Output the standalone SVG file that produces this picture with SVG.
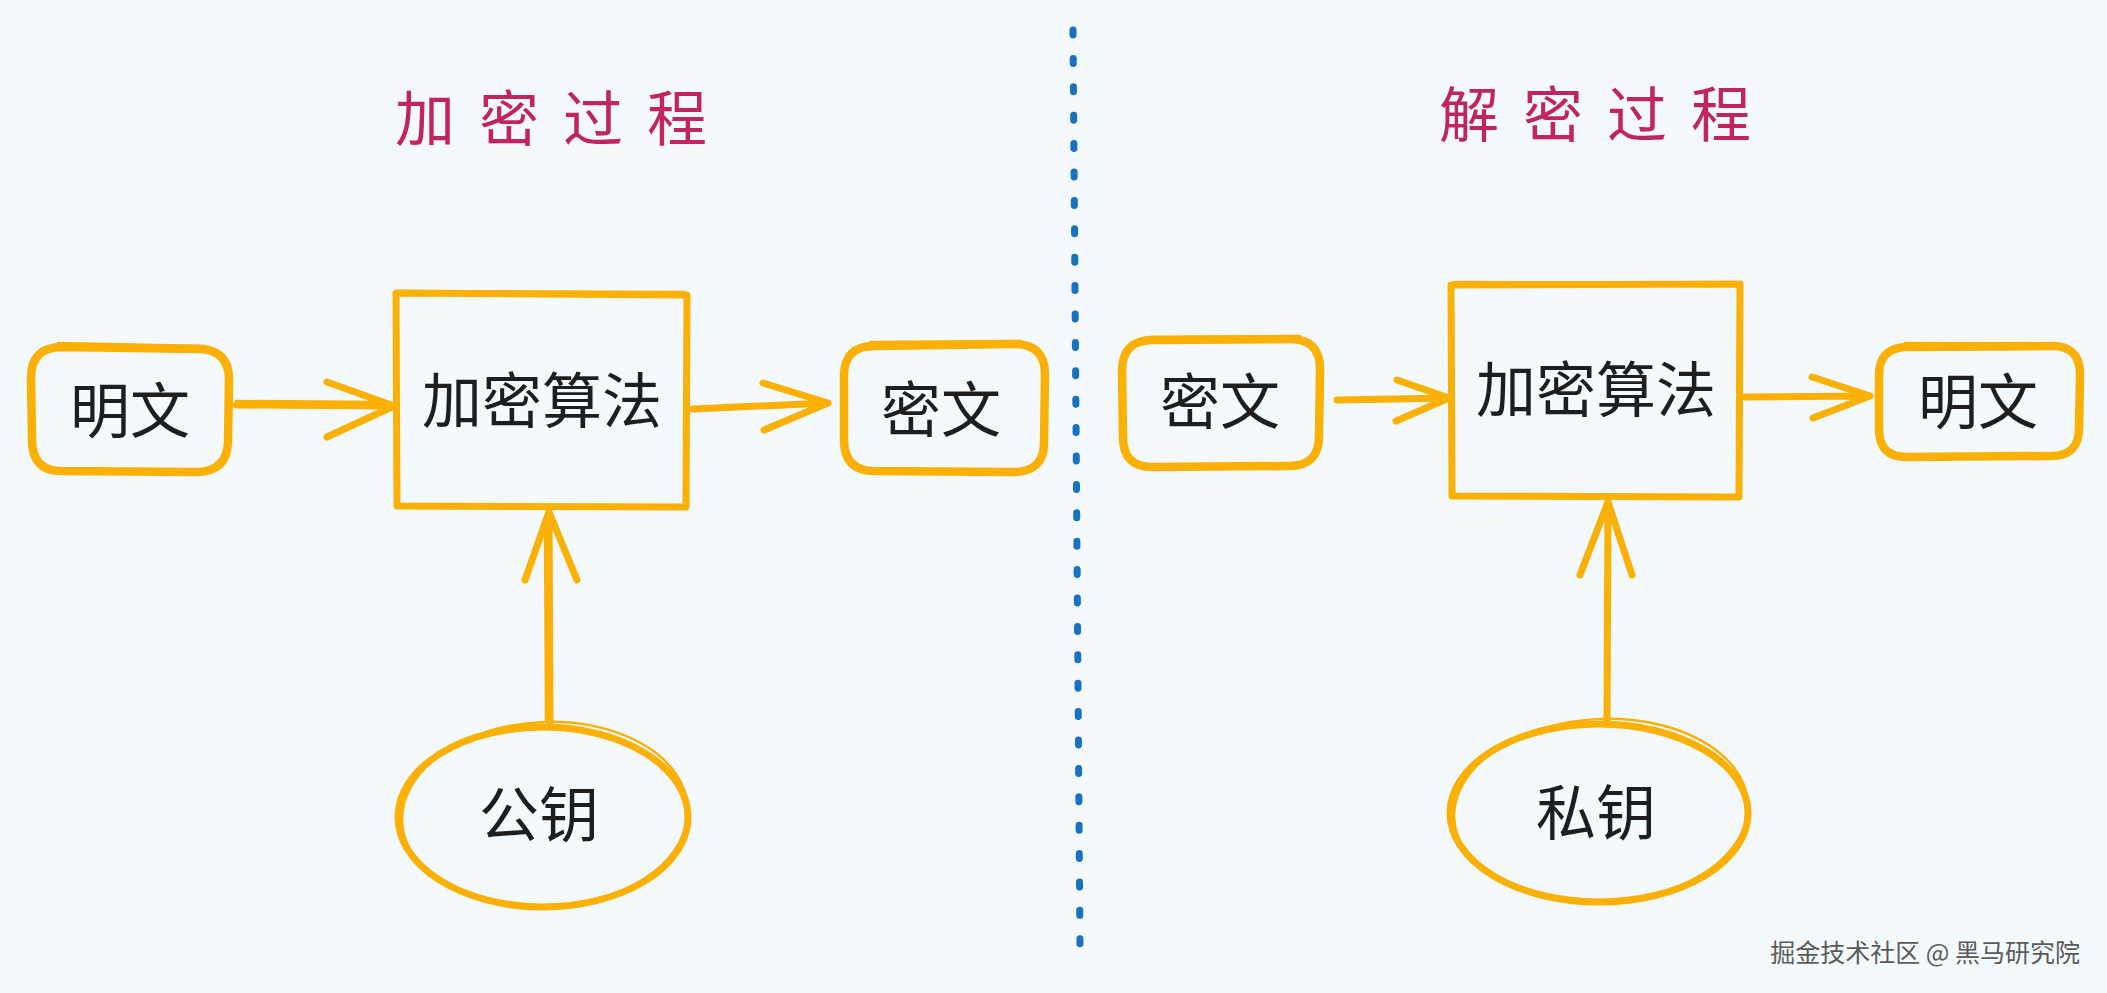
<svg xmlns="http://www.w3.org/2000/svg" width="2107" height="993" viewBox="0 0 2107 993">
<style>
.bg{fill:#f3f9fd}
.sk{fill:none;stroke:#fab005;stroke-width:7;stroke-linecap:round;stroke-linejoin:round}
.bx{fill:none;stroke:#fab005;stroke-width:8.5;stroke-linecap:round;stroke-linejoin:round}
.sk2{fill:none;stroke:#fab005;stroke-width:2.5;stroke-linecap:round;stroke-linejoin:round}
.ar{fill:none;stroke:#fab005;stroke-width:7;stroke-linecap:round;stroke-linejoin:round}
.lbl{font-family:"Noto Sans CJK SC","Noto Sans",sans-serif;font-size:60px;fill:#1e1e1e;text-anchor:middle;dominant-baseline:central}
.ttl{font-family:"Noto Sans CJK SC","Noto Sans",sans-serif;font-size:60px;fill:#c2255c;letter-spacing:24px;dominant-baseline:central}
.wm{font-family:"Noto Sans CJK SC","Noto Sans",sans-serif;font-size:25px;fill:#5a5a5a;text-anchor:end;stroke:#ffffff;stroke-width:0.6;paint-order:stroke}
.div{fill:none;stroke:#1971c2;stroke-width:7;stroke-linecap:round;stroke-dasharray:5 23.4}
</style>
<rect class="bg" x="0" y="0" width="2107" height="993"/>

<g id="title-encrypt"><text class="ttl" x="395" y="114">加密过程</text></g>
<g id="title-decrypt"><text class="ttl" x="1439" y="110">解密过程</text></g>

<g id="divider"><path class="div" d="M1073 30 L1080 945"/></g>

<g id="enc-plain">
<path class="bx" d="M62 347 L200 349 Q229 350 229 380 L228 442 Q227 472 196 472 L60 471 Q32 470 32 440 L31 378 Q31 347 62 347 Z"/>
<path class="sk2" d="M58 343 L205 346"/>
<text class="lbl" x="130" y="406">明文</text>
</g>

<g id="enc-algo">
<path class="sk" d="M396 293 L687 295 L686 507 L397 506 Z"/>
<path class="sk2" d="M399 291 L684 292"/>
<text class="lbl" x="542" y="396">加密算法</text>
</g>

<g id="enc-cipher">
<path class="bx" d="M874 346 L1014 344 Q1045 344 1045 374 L1044 443 Q1044 472 1013 472 L873 471 Q844 470 844 440 L844 376 Q844 346 874 346 Z"/>
<path class="sk2" d="M870 342 L1020 341"/>
<text class="lbl" x="941" y="405">密文</text>
</g>

<g id="enc-pubkey">
<ellipse class="sk" cx="543" cy="817" rx="145" ry="90"/>
<ellipse class="sk2" cx="545" cy="815" rx="143" ry="93" transform="rotate(-3 545 815)"/>
<text class="lbl" x="539" y="810">公钥</text>
</g>

<g id="dec-cipher">
<path class="bx" d="M1153 340 L1290 339 Q1320 339 1320 369 L1319 436 Q1319 466 1289 466 L1152 467 Q1123 467 1123 437 L1122 371 Q1122 340 1153 340 Z"/>
<path class="sk2" d="M1150 337 L1300 336"/>
<text class="lbl" x="1220" y="397">密文</text>
</g>

<g id="dec-algo">
<path class="sk" d="M1451 285 L1740 284 L1739 497 L1452 496 Z"/>
<path class="sk2" d="M1454 282 L1737 283"/>
<text class="lbl" x="1596" y="385">加密算法</text>
</g>

<g id="dec-plain">
<path class="bx" d="M1908 347 L2052 346 Q2080 346 2080 374 L2079 428 Q2079 456 2051 456 L1906 457 Q1879 457 1879 429 L1879 375 Q1879 347 1908 347 Z"/>
<path class="sk2" d="M1905 343 L2058 344"/>
<text class="lbl" x="1978" y="397">明文</text>
</g>

<g id="dec-privkey">
<ellipse class="sk" cx="1599" cy="813" rx="149" ry="89"/>
<ellipse class="sk2" cx="1601" cy="811" rx="147" ry="92" transform="rotate(-3 1601 811)"/>
<text class="lbl" x="1596" y="808">私钥</text>
</g>

<g id="connectors">
<path class="ar" d="M236 405 L394 406 M327 382 L394 406 L327 437"/>
<path class="sk2" d="M236 401 L380 402"/>
<path class="ar" d="M693 409 L828 403 M763 383 L828 403 L764 430"/>
<path class="ar" d="M550 722 L549 512 M525 580 L549 512 L577 580"/>
<path class="sk2" d="M546 720 L545 520"/>
<path class="ar" d="M1337 400 L1449 398 M1397 380 L1449 398 L1396 421"/>
<path class="ar" d="M1745 397 L1870 396 M1812 377 L1870 396 L1813 418"/>
<path class="ar" d="M1607 722 L1608 502 M1580 575 L1608 502 L1632 575"/>
</g>

<g id="watermark"><text class="wm" x="2080" y="962">掘金技术社区 @ 黑马研究院</text></g>
</svg>
